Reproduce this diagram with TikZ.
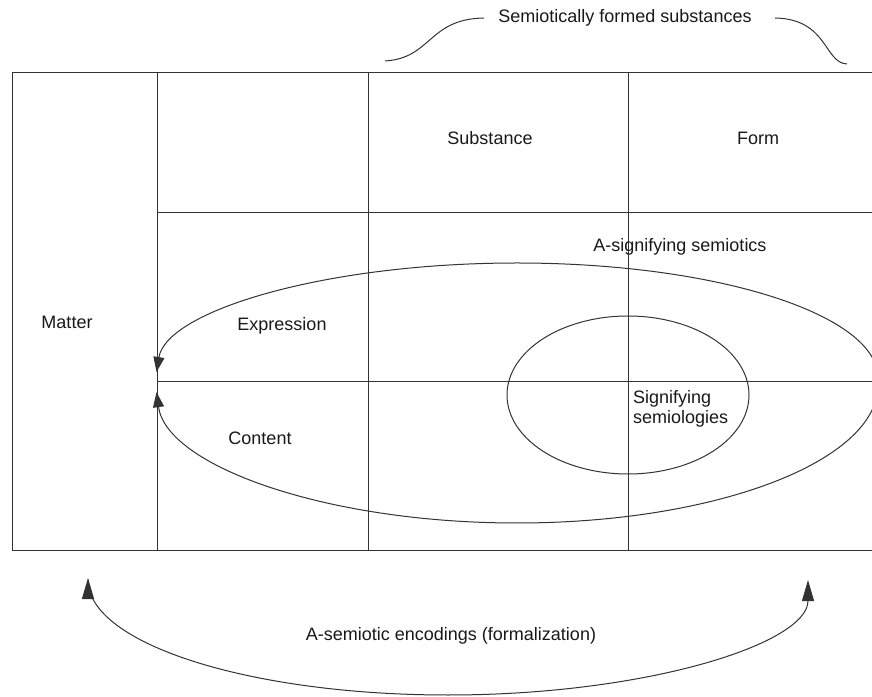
\documentclass[tikz,border=0pt]{standalone}
\usepackage{fontspec}
\setmainfont{Liberation Sans}
\usetikzlibrary{arrows.meta}

\begin{document}
\begin{tikzpicture}[x=1pt, y=1pt,
    grid/.style={line width=1pt, black!80},
    curve/.style={line width=1pt, black!80},
    lbl/.style={font=\fontsize{18}{20}\selectfont, text=black!90, inner sep=0pt},
    bigtip/.style={-{Triangle[length=21pt,width=12pt]}},
    smalltip/.style={-{Triangle[length=15pt,width=11pt]}}]
    \useasboundingbox (0,0) rectangle (872,696);
    % Table
    \draw[grid] (872,623) -- (12,623) -- (12,145) -- (872,145);
    \draw[grid] (157,623) -- (157,145);
    \draw[grid] (368,623) -- (368,145);
    \draw[grid] (628,623) -- (628,145);
    \draw[grid] (157,483) -- (872,483);
    \draw[grid] (157,314) -- (872,314);
    % Labels
    \node[lbl] (subst) at (490,558) {Substance};
    \node[lbl] (form) at (758,558) {Form};
    \node[lbl] (matter) at (67,374) {Matter};
    \node[lbl] (expr) at (282,370) {Expression};
    \node[lbl] (cont) at (260,258) {Content};
    \node[lbl] (asig) at (680,449) {A-signifying semiotics};
    \node[lbl, anchor=west, align=left] (sigsem) at (633,287) {Signifying\\semiologies};
    \node[lbl] (enc) at (451,60) {A-semiotic encodings (formalization)};
    \node[lbl] (formed) at (625,678) {Semiotically formed substances};
    % Brace over substance and form
    \coordinate (braceL) at (385,635);
    \coordinate (braceR) at (847,632);
    \coordinate (bl) at (484,678);
    \coordinate (br) at (775,678);
    \draw[curve] (braceL) .. controls (432,638) and (428,677) .. (bl);
    \draw[curve] (br) .. controls (828,677) and (824,633) .. (braceR);
    % A-signifying loop
    \coordinate (loopR) at (878,318);
    \coordinate (loopR2) at (878,311);
    \draw[curve, smalltip] (loopR) arc[start angle=0, end angle=177, x radius=361pt, y radius=115pt];
    \draw[curve, smalltip] (loopR2) arc[start angle=0, end angle=-177, x radius=361pt, y radius=138pt];
    % Signifying semiologies
    \draw[curve] (628,301) ellipse[x radius=121pt, y radius=79pt];
    % A-semiotic encodings
    \coordinate (matterfoot) at (88,118);
    \draw[curve, bigtip] (matterfoot) ++(0,-2) arc[start angle=180, end angle=360, x radius=360pt, y radius=115pt] coordinate (formfoot);
    \draw[curve, bigtip] (matterfoot) ++(0,-2) -- (matterfoot);
\end{tikzpicture}
\end{document}
